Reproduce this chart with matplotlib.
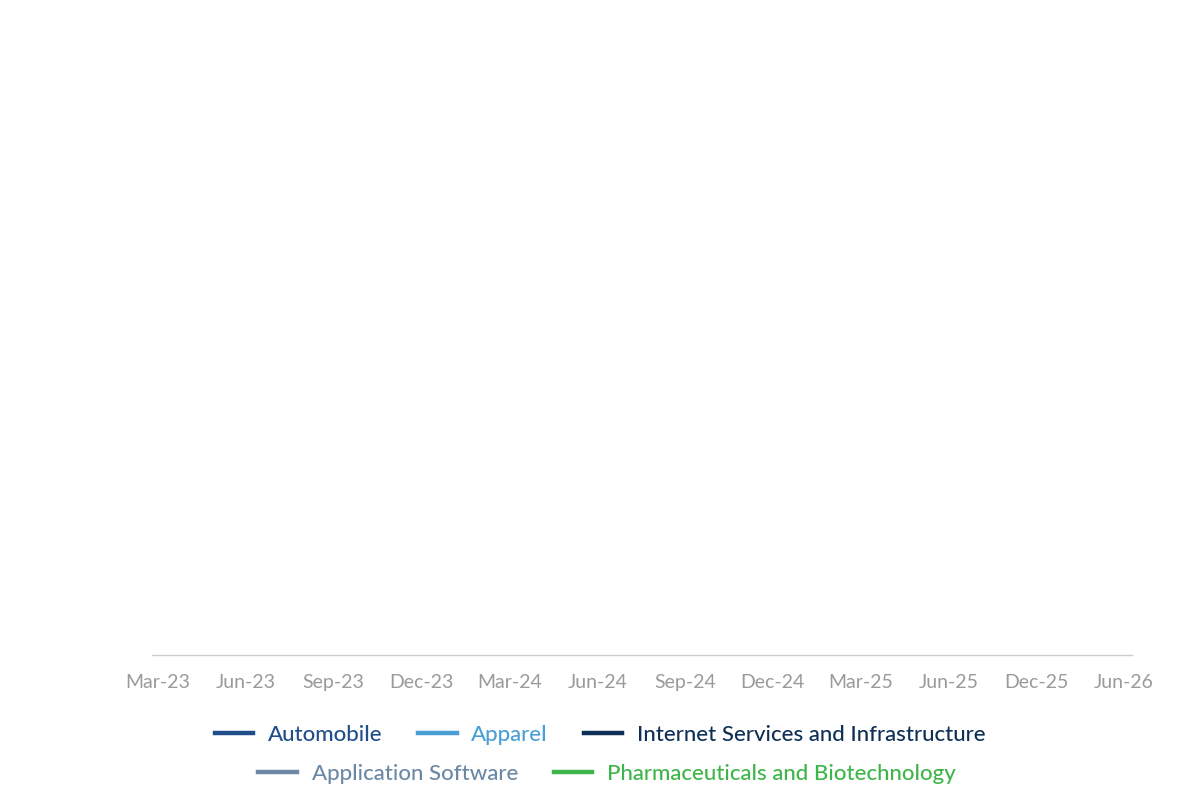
import numpy as np
import matplotlib
matplotlib.use("Agg")
import matplotlib.pyplot as plt
from matplotlib.lines import Line2D

plt.rcParams['font.family'] = ['Lato', 'DejaVu Sans']

categories = ["Mar-23", "Jun-23", "Sep-23", "Dec-23", "Mar-24", "Jun-24",
              "Sep-24", "Dec-24", "Mar-25", "Jun-25", "Dec-25", "Jun-26"]
series_names = ["Automobile", "Apparel", "Internet Services and Infrastructure",
                "Application Software", "Pharmaceuticals and Biotechnology"]
# No values are drawn in the reference chart (all series empty)
automobile = [np.nan] * len(categories)
apparel = [np.nan] * len(categories)
internet = [np.nan] * len(categories)
app_software = [np.nan] * len(categories)
pharma = [np.nan] * len(categories)
series_values = [automobile, apparel, internet, app_software, pharma]
colors = ["#1f4e8a", "#4a9ed6", "#0e2f56", "#6b88a4", "#3eb548"]

fig = plt.figure(figsize=(12, 8.09), dpi=100)
ax = fig.add_axes([152/1200, 154/809, 980/1200, 0.78])

x = np.arange(len(categories))
for name, vals, c in zip(series_names, series_values, colors):
    ax.plot(x, vals, color=c, lw=3, label=name)

ax.set_xlim(-0.07, len(categories) - 1 + 0.09)
ax.set_ylim(0, 1)
ax.set_xticks(x)
ax.set_xticklabels(categories, fontsize=14, color="#9a9a9a")
ax.tick_params(axis='x', length=0, pad=14)
ax.set_yticks([])
for s in ["top", "left", "right"]:
    ax.spines[s].set_visible(False)
ax.spines["bottom"].set_color("#cccccc")
ax.spines["bottom"].set_linewidth(1)

def make_legend(idx, ycenter, xcenter):
    handles = [Line2D([0], [0], color=colors[i], lw=3.2) for i in idx]
    labels = [series_names[i] for i in idx]
    leg = fig.legend(handles, labels, loc="center", bbox_to_anchor=(xcenter/1200, 1 - ycenter/809),
                     ncol=len(idx), frameon=False, handlelength=1.75,
                     handletextpad=0.65, columnspacing=1.6,
                     prop={'size': 16, 'weight': 'medium'})
    for t, i in zip(leg.get_texts(), idx):
        t.set_color(colors[i])
    return leg

make_legend([0, 1, 2], 735, 600)
make_legend([3, 4], 774, 607)

fig.savefig("out.png", dpi=100, facecolor="white")
